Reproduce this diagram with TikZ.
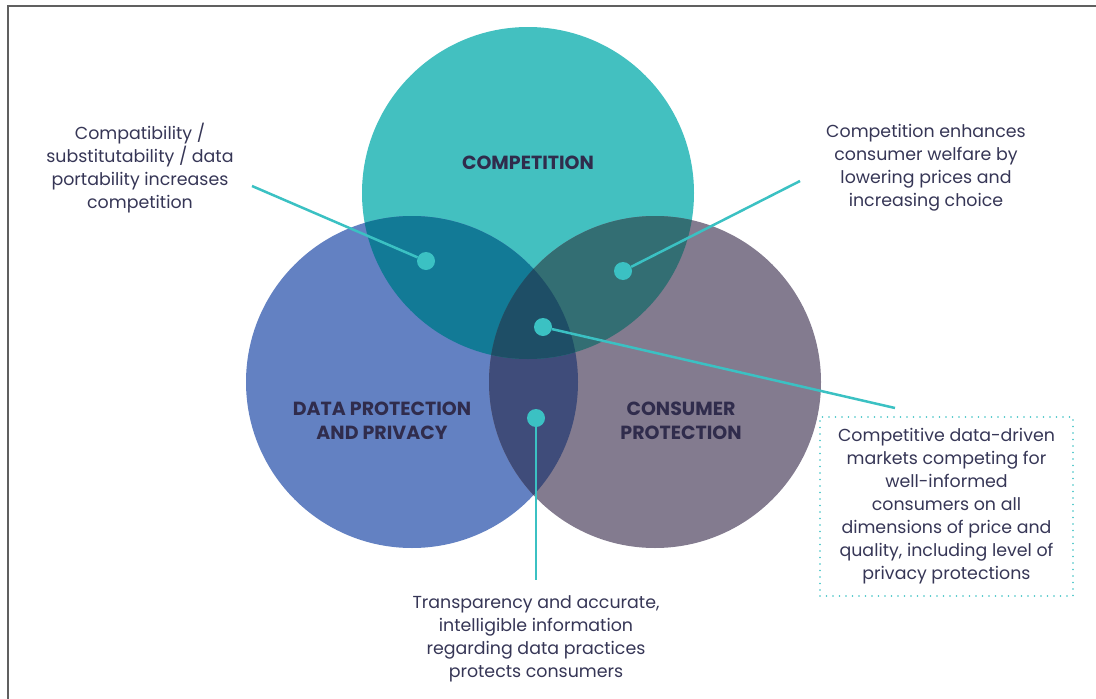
\documentclass[tikz,border=0pt]{standalone}
\usepackage{fontspec}
\setmainfont{Poppins}
\usetikzlibrary{positioning}
\definecolor{framegray}{HTML}{606060}
\definecolor{compteal}{HTML}{43C0C0}
\definecolor{datablue}{HTML}{6381C2}
\definecolor{consgray}{HTML}{837B8F}
\definecolor{compdata}{HTML}{127A96}
\definecolor{compcons}{HTML}{336E73}
\definecolor{datacons}{HTML}{3F4C7A}
\definecolor{allthree}{HTML}{1E4E66}
\definecolor{dotcyan}{HTML}{3BC1C3}
\definecolor{textink}{HTML}{363656}
\definecolor{headink}{HTML}{302C4C}
\tikzset{
  dot/.style={circle, fill=dotcyan, minimum size=18pt, inner sep=0pt},
  leader/.style={draw=dotcyan, line width=2.5pt},
  note/.style={align=center, text=textink, inner sep=0pt, font=\fontsize{17.4}{23}\selectfont},
  heading/.style={align=center, text=headink, inner sep=0pt, font=\fontsize{19}{23.5}\selectfont\bfseries},
}
\begin{document}
\begin{tikzpicture}[x=1pt,y=-1pt]
\useasboundingbox (0,0) rectangle (1096,699);
% frame round the figure
\draw[framegray, line width=2.5pt] (8,699) -- (8,6) -- (1096,6);

% the three circles
\coordinate (comp) at (528,193);
\coordinate (data) at (412,382);
\coordinate (cons) at (655,382);
\fill[compteal] (comp) circle (166pt);
\fill[datablue] (data) circle (166pt);
\fill[consgray] (cons) circle (166pt);
\begin{scope}
  \clip (data) circle (166pt);
  \fill[datacons] (cons) circle (166pt);
\end{scope}
\begin{scope}
  \clip (comp) circle (166pt);
  \fill[compdata] (data) circle (166pt);
  \fill[compcons] (cons) circle (166pt);
  \clip (data) circle (166pt);
  \fill[allthree] (cons) circle (166pt);
\end{scope}

% circle titles
\node[heading] (tcomp) at (528,163) {COMPETITION};
\node[heading] (tdata) at (382,421) {DATA PROTECTION\\AND PRIVACY};
\node[heading] (tcons) at (681,421) {CONSUMER\\PROTECTION};

% dots in the overlaps
\node[dot] (dcompdata) at (426,261) {};
\node[dot] (dcompcons) at (623,271) {};
\node[dot] (dall) at (543,327) {};
\node[dot] (ddatacons) at (536,418) {};

% notes
\node[note] (ncompdata) at (140,168) {Compatibility /\\substitutability / data\\portability increases\\competition};
\node[note] (ncompcons) at (926,168) {Competition enhances\\consumer welfare by\\lowering prices and\\increasing choice};
\node[note, draw=dotcyan, line width=1.6pt, line cap=round, dash pattern=on 0pt off 6.5pt,
      minimum width=253pt, minimum height=179pt] (nall) at (946.5,506.5)
  {Competitive data-driven\\markets competing for\\well-informed\\consumers on all\\dimensions of price and\\quality, including level of\\privacy protections};
\node[note] (ndatacons) at (536,639) {Transparency and accurate,\\intelligible information\\regarding data practices\\protects consumers};

% leader lines
\coordinate (ecompdata) at (252,186);
\coordinate (ecompcons) at (800,181);
\coordinate (eall) at (895,408);
\coordinate (edatacons) at (536,580);
\draw[leader] (dcompdata) -- (ecompdata);
\draw[leader] (dcompcons) -- (ecompcons);
\draw[leader] (dall) -- (eall);
\draw[leader] (ddatacons) -- (edatacons);
\end{tikzpicture}
\end{document}
